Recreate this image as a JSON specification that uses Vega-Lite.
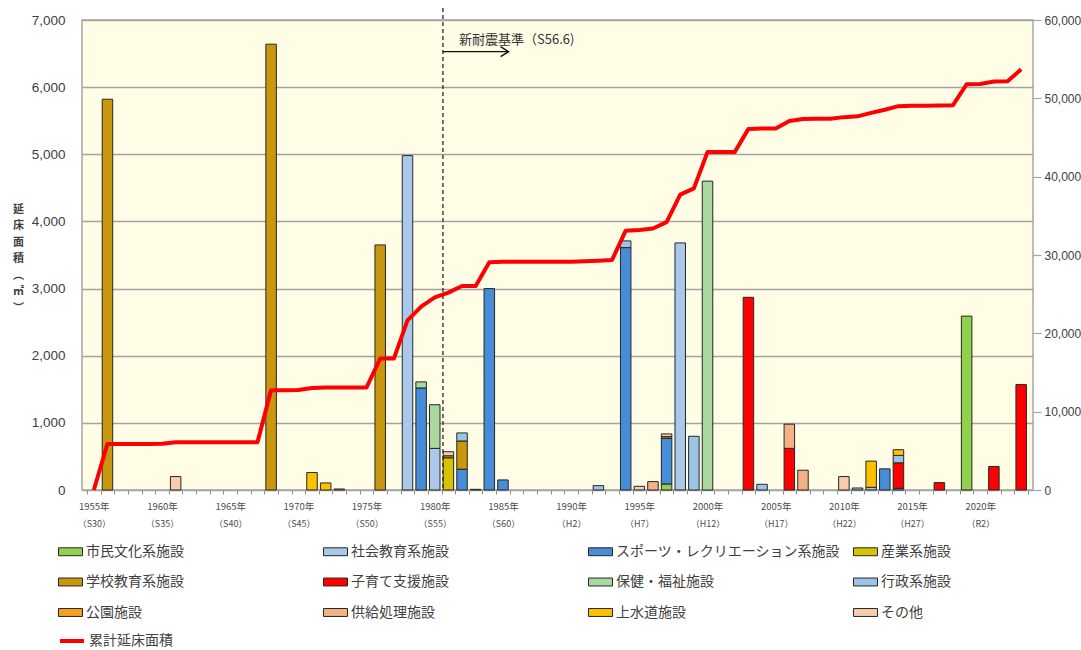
{
  "$schema": "https://vega.github.io/schema/vega-lite/v6.json",
  "width": 951,
  "height": 470,
  "autosize": {"type": "none"},
  "padding": {"left": 82, "top": 20, "right": 48, "bottom": 160},
  "background": "white",
  "config": {
    "view": {"fill": "#FFFDE6", "stroke": "#A6A6A6", "strokeWidth": 1.5},
    "font": "Noto Sans CJK JP",
    "axis": {"gridColor": "#A3A3A3", "gridWidth": 1.5, "domain": false, "ticks": false, "labelColor": "#404040"}
  },
  "datasets": {
    "bars": [
      {"year": 1956, "cat": "学校教育系施設", "k": 5, "area": 5820},
      {"year": 1961, "cat": "その他", "k": 12, "area": 200},
      {"year": 1968, "cat": "学校教育系施設", "k": 5, "area": 6640},
      {"year": 1971, "cat": "上水道施設", "k": 11, "area": 260},
      {"year": 1972, "cat": "上水道施設", "k": 11, "area": 105},
      {"year": 1973, "cat": "学校教育系施設", "k": 5, "area": 15},
      {"year": 1976, "cat": "学校教育系施設", "k": 5, "area": 3650},
      {"year": 1978, "cat": "社会教育系施設", "k": 2, "area": 4980},
      {"year": 1979, "cat": "スポーツ・レクリエーション系施設", "k": 3, "area": 1520},
      {"year": 1979, "cat": "保健・福祉施設", "k": 7, "area": 90},
      {"year": 1980, "cat": "社会教育系施設", "k": 2, "area": 620},
      {"year": 1980, "cat": "保健・福祉施設", "k": 7, "area": 650},
      {"year": 1981, "cat": "産業系施設", "k": 4, "area": 480},
      {"year": 1981, "cat": "公園施設", "k": 9, "area": 30},
      {"year": 1981, "cat": "その他", "k": 12, "area": 60},
      {"year": 1982, "cat": "スポーツ・レクリエーション系施設", "k": 3, "area": 310},
      {"year": 1982, "cat": "学校教育系施設", "k": 5, "area": 420},
      {"year": 1982, "cat": "行政系施設", "k": 8, "area": 120},
      {"year": 1983, "cat": "学校教育系施設", "k": 5, "area": 10},
      {"year": 1984, "cat": "スポーツ・レクリエーション系施設", "k": 3, "area": 3000},
      {"year": 1985, "cat": "スポーツ・レクリエーション系施設", "k": 3, "area": 150},
      {"year": 1992, "cat": "行政系施設", "k": 8, "area": 65},
      {"year": 1994, "cat": "スポーツ・レクリエーション系施設", "k": 3, "area": 3610},
      {"year": 1994, "cat": "行政系施設", "k": 8, "area": 100},
      {"year": 1995, "cat": "その他", "k": 12, "area": 55},
      {"year": 1996, "cat": "供給処理施設", "k": 10, "area": 125},
      {"year": 1997, "cat": "市民文化系施設", "k": 1, "area": 90},
      {"year": 1997, "cat": "スポーツ・レクリエーション系施設", "k": 3, "area": 680},
      {"year": 1997, "cat": "学校教育系施設", "k": 5, "area": 25},
      {"year": 1997, "cat": "その他", "k": 12, "area": 40},
      {"year": 1998, "cat": "社会教育系施設", "k": 2, "area": 3680},
      {"year": 1999, "cat": "行政系施設", "k": 8, "area": 800},
      {"year": 2000, "cat": "保健・福祉施設", "k": 7, "area": 4600},
      {"year": 2003, "cat": "子育て支援施設", "k": 6, "area": 2870},
      {"year": 2004, "cat": "行政系施設", "k": 8, "area": 85},
      {"year": 2006, "cat": "子育て支援施設", "k": 6, "area": 620},
      {"year": 2006, "cat": "供給処理施設", "k": 10, "area": 360},
      {"year": 2007, "cat": "供給処理施設", "k": 10, "area": 295},
      {"year": 2010, "cat": "その他", "k": 12, "area": 200},
      {"year": 2011, "cat": "行政系施設", "k": 8, "area": 30},
      {"year": 2012, "cat": "行政系施設", "k": 8, "area": 40},
      {"year": 2012, "cat": "上水道施設", "k": 11, "area": 390},
      {"year": 2013, "cat": "スポーツ・レクリエーション系施設", "k": 3, "area": 315},
      {"year": 2014, "cat": "スポーツ・レクリエーション系施設", "k": 3, "area": 25},
      {"year": 2014, "cat": "子育て支援施設", "k": 6, "area": 380},
      {"year": 2014, "cat": "行政系施設", "k": 8, "area": 110},
      {"year": 2014, "cat": "上水道施設", "k": 11, "area": 85},
      {"year": 2017, "cat": "子育て支援施設", "k": 6, "area": 110},
      {"year": 2019, "cat": "市民文化系施設", "k": 1, "area": 2590},
      {"year": 2021, "cat": "子育て支援施設", "k": 6, "area": 350},
      {"year": 2023, "cat": "子育て支援施設", "k": 6, "area": 1570}
    ],
    "cum": [
      {"year": 1955, "total": 0},
      {"year": 1956, "total": 5880},
      {"year": 1957, "total": 5880},
      {"year": 1958, "total": 5880},
      {"year": 1959, "total": 5880},
      {"year": 1960, "total": 5900},
      {"year": 1961, "total": 6100},
      {"year": 1962, "total": 6100},
      {"year": 1963, "total": 6100},
      {"year": 1964, "total": 6100},
      {"year": 1965, "total": 6100},
      {"year": 1966, "total": 6100},
      {"year": 1967, "total": 6100},
      {"year": 1968, "total": 12750},
      {"year": 1969, "total": 12750},
      {"year": 1970, "total": 12760},
      {"year": 1971, "total": 13030},
      {"year": 1972, "total": 13100},
      {"year": 1973, "total": 13100},
      {"year": 1974, "total": 13100},
      {"year": 1975, "total": 13100},
      {"year": 1976, "total": 16780},
      {"year": 1977, "total": 16780},
      {"year": 1978, "total": 21650},
      {"year": 1979, "total": 23400},
      {"year": 1980, "total": 24600},
      {"year": 1981, "total": 25200},
      {"year": 1982, "total": 26050},
      {"year": 1983, "total": 26050},
      {"year": 1984, "total": 29080},
      {"year": 1985, "total": 29150},
      {"year": 1986, "total": 29150},
      {"year": 1987, "total": 29150},
      {"year": 1988, "total": 29150},
      {"year": 1989, "total": 29150},
      {"year": 1990, "total": 29150},
      {"year": 1991, "total": 29200},
      {"year": 1992, "total": 29280},
      {"year": 1993, "total": 29370},
      {"year": 1994, "total": 33100},
      {"year": 1995, "total": 33200},
      {"year": 1996, "total": 33380},
      {"year": 1997, "total": 34200},
      {"year": 1998, "total": 37700},
      {"year": 1999, "total": 38500},
      {"year": 2000, "total": 43150},
      {"year": 2001, "total": 43150},
      {"year": 2002, "total": 43150},
      {"year": 2003, "total": 46100},
      {"year": 2004, "total": 46150},
      {"year": 2005, "total": 46150},
      {"year": 2006, "total": 47100},
      {"year": 2007, "total": 47350},
      {"year": 2008, "total": 47380},
      {"year": 2009, "total": 47380},
      {"year": 2010, "total": 47600},
      {"year": 2011, "total": 47700},
      {"year": 2012, "total": 48150},
      {"year": 2013, "total": 48550},
      {"year": 2014, "total": 49000},
      {"year": 2015, "total": 49050},
      {"year": 2016, "total": 49050},
      {"year": 2017, "total": 49100},
      {"year": 2018, "total": 49130},
      {"year": 2019, "total": 51800},
      {"year": 2020, "total": 51820},
      {"year": 2021, "total": 52150},
      {"year": 2022, "total": 52180},
      {"year": 2023, "total": 53700}
    ]
  },
  "layer": [
    {
      "layer": [
        {
          "data": {"name": "bars"},
          "mark": {"type": "bar", "width": 10.5, "stroke": "#262626", "strokeWidth": 1},
          "encoding": {
            "x": {
              "field": "year", "type": "quantitative",
              "scale": {"domain": [1954.5, 2023.5], "nice": false, "zero": false},
              "axis": {
                "orient": "bottom", "title": null, "grid": false, "ticks": false, "domain": false,
                "values": [1955, 1960, 1965, 1970, 1975, 1980, 1985, 1990, 1995, 2000, 2005, 2010, 2015, 2020],
                "labelExpr": "datum.value + '年'",
                "labelFontSize": 9.5, "labelPadding": 11, "labelColor": "#4D4D4D",
                "labelFont": "Noto Sans CJK JP", "labelFlush": false, "labelOverlap": false
              }
            },
            "y": {
              "field": "area", "type": "quantitative", "stack": "zero",
              "scale": {"domain": [0, 7000], "nice": false},
              "axis": {
                "values": [0, 500, 1000, 1500, 2000, 2500, 3000, 3500, 4000, 4500, 5000, 5500, 6000, 6500, 7000],
                "format": ",d", "grid": true, "ticks": false, "domain": false,
                "labelFontSize": 13.5, "labelFont": "Liberation Sans", "labelPadding": 17, "labelColor": "#404040",
                "title": ["延", "床", "面", "積", "︵", "㎡", "︶"],
                "titleAngle": 0, "titleFontSize": 11, "titleFontWeight": "bold", "titleFont": "Noto Sans CJK JP",
                "titleLineHeight": 16.5, "titleX": -64, "titleY": 183, "titleAlign": "center", "titleBaseline": "top",
                "titleColor": "#404040"
              }
            },
            "fill": {
              "field": "cat", "type": "nominal",
              "scale": {
                "domain": ["市民文化系施設", "社会教育系施設", "スポーツ・レクリエーション系施設", "産業系施設", "学校教育系施設", "子育て支援施設", "保健・福祉施設", "行政系施設", "公園施設", "供給処理施設", "上水道施設", "その他"],
                "range": ["#92D050", "#A9C8EA", "#468CD7", "#D7C300", "#C9970E", "#FF0000", "#AAD9A0", "#9DC3E6", "#F5A020", "#F4B183", "#FFC000", "#F8CBAD"]
              },
              "legend": {
                "orient": "none", "legendX": -24, "legendY": 519, "title": null, "direction": "horizontal",
                "columns": 4, "gridAlign": "all", "columnPadding": 11, "rowPadding": 10.5,
                "symbolType": "M-1,-0.33H1V0.33H-1Z", "symbolSize": 576,
                "symbolStrokeColor": "#262626", "symbolStrokeWidth": 1,
                "labelFontSize": 14, "labelFont": "Noto Sans CJK JP", "labelColor": "#404040",
                "labelOffset": 3, "labelLimit": 400
              }
            },
            "order": {"field": "k", "type": "quantitative", "sort": "ascending"}
          }
        },
        {
          "data": {"values": [{}]},
          "mark": {"type": "rule", "strokeDash": [4, 3], "strokeWidth": 1.3, "color": "#262626"},
          "encoding": {
            "x": {
              "datum": 1980.6, "type": "quantitative",
              "axis": {
                "orient": "bottom", "title": null, "grid": false, "ticks": false, "domain": false,
                "values": [1955, 1960, 1965, 1970, 1975, 1980, 1985, 1990, 1995, 2000, 2005, 2010, 2015, 2020],
                "labelExpr": "'（' + (datum.value < 1989 ? 'S' + (datum.value - 1925) : (datum.value < 2019 ? 'H' + (datum.value - 1988) : 'R' + (datum.value - 2018))) + '）'",
                "labelFontSize": 9, "labelPadding": 29, "labelColor": "#4D4D4D",
                "labelFont": "Noto Sans CJK JP", "labelFlush": false, "labelOverlap": false
              }
            },
            "y": {"datum": 7180, "type": "quantitative"},
            "y2": {"datum": 0}
          }
        },
        {
          "data": {"values": [{}]},
          "mark": {"type": "rule", "strokeWidth": 1.3, "color": "#111111"},
          "encoding": {
            "x": {
              "datum": 1980.6, "type": "quantitative",
              "axis": {
                "orient": "bottom", "title": null, "grid": false, "domain": false, "labels": false,
                "ticks": true, "tickSize": 4, "tickColor": "#8C8C8C", "tickWidth": 1,
                "values": [1954.5, 1955.5, 1956.5, 1957.5, 1958.5, 1959.5, 1960.5, 1961.5, 1962.5, 1963.5, 1964.5, 1965.5, 1966.5, 1967.5, 1968.5, 1969.5, 1970.5, 1971.5, 1972.5, 1973.5, 1974.5, 1975.5, 1976.5, 1977.5, 1978.5, 1979.5, 1980.5, 1981.5, 1982.5, 1983.5, 1984.5, 1985.5, 1986.5, 1987.5, 1988.5, 1989.5, 1990.5, 1991.5, 1992.5, 1993.5, 1994.5, 1995.5, 1996.5, 1997.5, 1998.5, 1999.5, 2000.5, 2001.5, 2002.5, 2003.5, 2004.5, 2005.5, 2006.5, 2007.5, 2008.5, 2009.5, 2010.5, 2011.5, 2012.5, 2013.5, 2014.5, 2015.5, 2016.5, 2017.5, 2018.5, 2019.5, 2020.5, 2021.5, 2022.5, 2023.5]
              }
            },
            "x2": {"datum": 1985.4},
            "y": {"datum": 6528, "type": "quantitative"}
          }
        },
        {
          "data": {"values": [{}]},
          "mark": {"type": "point", "shape": "M-0.8,-1L0.8,0L-0.8,1", "size": 100, "filled": false, "stroke": "#111111", "strokeWidth": 1.4, "opacity": 1},
          "encoding": {
            "x": {"datum": 1985.12, "type": "quantitative", "axis": null},
            "y": {"datum": 6528, "type": "quantitative"}
          }
        },
        {
          "data": {"values": [{}]},
          "mark": {"type": "text", "text": "新耐震基準（S56.6)", "align": "left", "baseline": "middle", "fontSize": 13, "font": "Noto Sans CJK JP", "color": "#333333"},
          "encoding": {
            "x": {"datum": 1981.78, "type": "quantitative", "axis": null},
            "y": {"datum": 6702, "type": "quantitative"}
          }
        }
      ],
      "resolve": {"axis": {"x": "independent"}}
    },
    {
      "data": {"name": "cum"},
      "mark": {"type": "line", "strokeWidth": 4, "strokeJoin": "round"},
      "encoding": {
        "x": {"field": "year", "type": "quantitative", "scale": {"domain": [1954.5, 2023.5], "nice": false, "zero": false}, "axis": null},
        "y": {
          "field": "total", "type": "quantitative",
          "scale": {"domain": [0, 60000], "nice": false},
          "axis": {
            "orient": "right", "values": [0, 10000, 20000, 30000, 40000, 50000, 60000], "format": ",d",
            "grid": false, "ticks": true, "tickSize": 8, "tickColor": "#A6A6A6", "tickWidth": 1.2, "domain": false,
            "labelFontSize": 12, "labelFont": "Liberation Sans", "labelPadding": 3, "labelColor": "#404040", "title": null
          }
        },
        "stroke": {
          "datum": "累計延床面積", "type": "nominal",
          "scale": {"range": ["#FF0000"]},
          "legend": {
            "orient": "none", "legendX": -24, "legendY": 607, "title": null,
            "symbolType": "stroke", "symbolSize": 576, "symbolStrokeWidth": 4,
            "labelFontSize": 14, "labelFont": "Noto Sans CJK JP", "labelColor": "#404040", "labelOffset": 3
          }
        }
      }
    }
  ],
  "resolve": {"scale": {"y": "independent"}}
}
